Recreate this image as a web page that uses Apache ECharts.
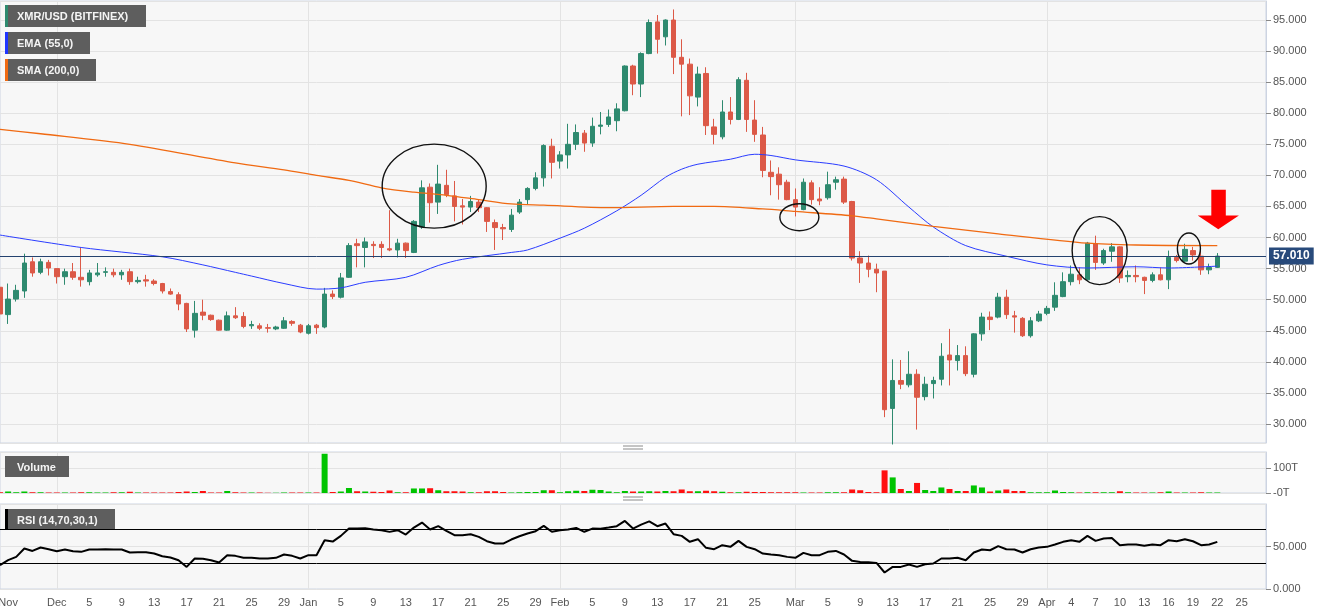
<!DOCTYPE html>
<html>
<head>
<meta charset="utf-8">
<title>XMR/USD (BITFINEX)</title>
<script src="https://cdn.jsdelivr.net/npm/echarts@6/dist/echarts.min.js"></script>
<style>
  html, body { margin: 0; padding: 0; background: #fff; }
  #chart { width: 1331px; height: 615px; }
</style>
</head>
<body>
<div id="chart"></div>
<script>
// daily candles, Nov 24 2019 .. Apr 22 2020 -> [open, high, low, close]
const ohlc = [
  // Nov 24-30
  [52.0, 52.6, 47.2, 47.7], [47.6, 52.6, 46.1, 50.1], [50.1, 52.4, 49.7, 51.5], [51.4, 57.4, 50.3, 55.9],
  [56.1, 56.8, 53.7, 54.3], [54.4, 56.6, 54.1, 56.1], [56.0, 56.4, 53.9, 55.1],
  // Dec
  [55.0, 55.0, 52.6, 53.7], [53.7, 55.0, 52.4, 54.5], [54.5, 55.9, 53.2, 53.6], [53.6, 58.4, 52.1, 53.2],
  [52.9, 54.8, 52.3, 54.3], [54.0, 55.9, 53.7, 54.3], [54.4, 55.2, 53.7, 54.5], [54.4, 55.0, 53.6, 54.0],
  [54.0, 54.8, 53.2, 54.4], [54.5, 55.0, 52.4, 52.9], [52.9, 53.7, 52.6, 53.1], [53.2, 54.0, 52.1, 53.0],
  [53.0, 53.3, 52.3, 52.6], [52.6, 52.7, 51.0, 51.4], [51.3, 51.8, 50.8, 50.9], [50.8, 51.2, 48.3, 49.3],
  [49.4, 49.5, 44.8, 45.3], [45.1, 49.8, 43.9, 47.8], [48.0, 50.0, 46.7, 47.5], [47.5, 47.6, 46.6, 46.8],
  [46.7, 46.8, 45.0, 45.1], [45.1, 48.1, 45.0, 47.4], [47.4, 48.8, 46.9, 47.1], [47.3, 48.0, 45.4, 45.7],
  [45.8, 46.6, 45.3, 46.0], [45.8, 46.2, 45.1, 45.4], [45.5, 46.1, 44.7, 45.4], [45.3, 45.8, 45.1, 45.6],
  [45.4, 47.2, 45.3, 46.6], [46.5, 46.7, 45.8, 46.2], [45.9, 46.1, 44.6, 44.8],
  // Jan
  [44.6, 46.1, 44.4, 45.8], [45.9, 46.1, 44.5, 45.5], [45.6, 51.9, 45.4, 50.9], [50.9, 51.5, 50.1, 50.5],
  [50.4, 54.3, 50.2, 53.5], [53.6, 59.1, 53.5, 58.7], [59.0, 59.8, 55.2, 58.7], [58.4, 60.0, 55.2, 59.3],
  [58.9, 59.4, 56.7, 58.7], [58.9, 59.4, 56.7, 58.4], [58.2, 64.4, 57.8, 58.0], [58.0, 59.8, 56.8, 59.1],
  [59.1, 59.2, 56.7, 57.9], [57.6, 62.8, 57.5, 62.6], [61.7, 69.2, 61.4, 68.0], [68.1, 68.7, 62.4, 65.6],
  [65.7, 71.7, 63.8, 68.6], [68.4, 70.9, 66.5, 66.9], [66.7, 69.1, 62.6, 65.0], [65.1, 66.2, 62.1, 64.9],
  [64.9, 66.7, 64.1, 65.8], [65.7, 66.2, 64.1, 64.8], [64.8, 64.9, 60.9, 62.6], [62.4, 62.9, 58.0, 61.6],
  [61.6, 62.2, 59.6, 61.4], [61.3, 64.6, 60.9, 63.6], [64.1, 66.2, 63.8, 65.7], [66.1, 68.1, 65.3, 67.9],
  [67.9, 70.5, 67.6, 69.6], [69.6, 75.0, 68.2, 74.8], [74.7, 75.9, 69.5, 72.1],
  // Feb
  [72.3, 73.9, 71.1, 73.3], [73.3, 78.3, 71.1, 75.0], [75.0, 78.2, 74.1, 76.9], [76.8, 77.3, 73.8, 75.2],
  [75.2, 79.3, 74.6, 77.9], [77.9, 80.2, 76.6, 78.1], [78.2, 80.6, 77.8, 79.4], [78.8, 81.6, 77.1, 80.7],
  [80.4, 87.7, 80.3, 87.6], [87.6, 87.8, 82.9, 84.7], [84.7, 89.8, 82.6, 89.6], [89.6, 95.1, 89.5, 94.6],
  [94.7, 95.8, 89.6, 91.9], [92.3, 95.1, 90.9, 95.0], [95.0, 96.7, 86.3, 89.0], [89.0, 91.9, 79.5, 87.9],
  [87.9, 88.8, 79.7, 82.8], [82.6, 87.5, 81.1, 86.3], [86.4, 87.4, 76.5, 78.0], [77.8, 79.1, 75.0, 76.6],
  [76.2, 82.1, 75.8, 80.2], [80.2, 82.6, 78.2, 79.0], [79.0, 85.8, 78.9, 85.4], [85.3, 86.5, 77.0, 79.0],
  [78.9, 82.1, 75.4, 76.6], [76.5, 77.8, 69.7, 70.8], [70.5, 72.4, 66.8, 69.8], [70.2, 71.3, 66.1, 68.5],
  [68.9, 69.3, 66.0, 66.1],
  // Mar
  [66.1, 67.9, 63.4, 64.9], [64.5, 69.5, 64.4, 68.9], [68.8, 69.2, 65.3, 66.1], [66.2, 68.1, 65.2, 65.9],
  [66.4, 70.6, 66.1, 68.5], [68.9, 69.8, 67.7, 69.3], [69.4, 69.8, 65.4, 65.7], [65.8, 65.9, 56.3, 56.7],
  [56.7, 57.8, 52.7, 55.9], [55.9, 57.1, 53.6, 54.9], [54.9, 55.8, 51.2, 54.3], [54.6, 54.6, 31.1, 32.3],
  [32.5, 40.4, 26.7, 37.0], [37.0, 40.3, 35.6, 36.4], [36.3, 41.7, 35.9, 38.0], [38.0, 38.8, 29.1, 34.3],
  [34.4, 37.6, 33.8, 36.4], [36.5, 37.6, 34.1, 37.0], [37.2, 43.0, 36.2, 40.9], [41.1, 45.3, 36.2, 40.3],
  [40.2, 42.7, 38.6, 41.0], [41.0, 42.5, 37.7, 38.1], [38.0, 44.6, 37.5, 44.5], [44.5, 47.9, 43.4, 47.2],
  [47.2, 48.1, 45.1, 46.8], [47.2, 51.1, 47.0, 50.4], [50.4, 51.6, 46.9, 47.6], [47.4, 48.2, 44.7, 47.2],
  [47.0, 47.2, 44.0, 44.2], [44.2, 47.2, 43.9, 46.6], [46.6, 48.2, 46.4, 47.7],
  // Apr 1-22
  [47.8, 49.0, 47.5, 48.6], [48.8, 52.8, 48.2, 50.7], [50.5, 54.4, 50.4, 52.9], [52.9, 55.5, 52.3, 54.1],
  [54.0, 55.2, 52.5, 53.2], [53.2, 59.3, 53.1, 59.1], [59.0, 60.3, 54.8, 56.0], [55.9, 58.2, 55.6, 57.9],
  [57.8, 59.1, 56.1, 58.5], [58.5, 58.6, 52.7, 53.5], [53.7, 54.7, 52.8, 53.9], [53.9, 55.5, 52.8, 53.7],
  [53.6, 53.7, 50.9, 53.1], [53.1, 54.4, 52.8, 54.0], [54.0, 55.2, 53.1, 53.2], [53.2, 57.9, 51.7, 56.8],
  [56.8, 57.2, 56.0, 56.3], [56.2, 59.0, 56.0, 58.1], [57.9, 58.5, 56.3, 57.2], [57.0, 58.6, 54.0, 54.8],
  [54.8, 55.8, 54.1, 55.2], [55.2, 57.5, 55.1, 57.01]
];

// volume in T, same days
const volume = [
  3, 6, 3, 6, 3, 3, 2,
  2, 2, 2, 3, 3, 2, 2, 3, 3, 5, 2, 2, 2, 2, 2, 4, 6, 4, 8, 2, 2, 8, 3, 2, 2, 2, 1, 1, 2, 2, 2,
  2, 2, 156, 4, 6, 20, 7, 6, 5, 4, 10, 3, 3, 18, 18, 19, 11, 7, 7, 6, 3, 3, 7, 7, 4, 2, 3, 4, 4, 11, 11,
  3, 7, 9, 8, 13, 12, 6, 3, 8, 6, 6, 7, 6, 8, 7, 14, 7, 7, 9, 7, 5, 3, 3, 5, 4, 4, 3, 3, 3,
  3, 2, 2, 2, 3, 3, 3, 14, 11, 4, 3, 90, 62, 16, 8, 40, 12, 8, 22, 16, 8, 8, 30, 22, 6, 10, 14, 8, 8, 3, 3,
  3, 10, 4, 3, 2, 3, 3, 3, 3, 7, 3, 2, 2, 2, 3, 6, 2, 2, 2, 3, 2, 2
];

// RSI (14), same days
const rsi = [
  28.0, 33.9, 37.8, 47.6, 44.8, 48.8, 46.8,
  44.5, 46.4, 44.5, 43.7, 46.4, 46.4, 46.8, 46.4, 46.4, 42.9, 43.3, 43.3, 41.7, 38.6, 37.0, 33.9,
  26.0, 35.8, 35.5, 33.9, 31.1, 39.8, 39.0, 36.7, 36.7, 35.9, 35.9, 36.7, 40.6, 39.0, 35.9,
  39.8, 39.8, 57.4, 55.8, 62.5, 71.1, 71.1, 71.5, 70.0, 69.2, 67.2, 69.2, 64.1, 72.3, 78.2, 70.0,
  73.9, 68.4, 63.3, 63.3, 64.4, 61.3, 56.2, 53.5, 53.5, 58.2, 62.1, 65.3, 68.0, 74.3, 67.3,
  69.2, 70.0, 71.9, 67.3, 71.1, 70.8, 72.3, 73.9, 80.1, 71.1, 75.8, 79.6, 73.9, 77.0, 64.5, 62.5,
  55.5, 58.6, 48.4, 46.8, 51.5, 49.6, 56.6, 49.6, 46.8, 41.7, 40.6, 39.8, 37.8,
  36.7, 42.5, 39.8, 39.8, 43.7, 44.8, 40.6, 33.1, 31.9, 31.5, 30.7, 19.4, 26.0, 26.0, 28.8, 26.0,
  29.2, 30.0, 35.9, 35.9, 36.7, 33.9, 42.9, 46.4, 45.6, 50.4, 46.8, 46.4, 42.9, 46.8, 48.8,
  49.6, 52.3, 55.5, 57.4, 55.5, 62.5, 56.6, 59.4, 60.1, 51.5, 52.3, 52.3, 50.8, 52.3, 51.5, 57.4,
  56.2, 58.6, 56.2, 51.5, 52.3, 55.5
];

// EMA 55 and SMA 200
const emaPts = [
  ['2019-11-24', 60.4], ['2019-12-04', 58.4], ['2019-12-14', 56.9], ['2019-12-19', 55.6],
  ['2019-12-23', 54.4], ['2019-12-25', 53.8], ['2019-12-29', 52.6], ['2020-01-02', 51.7],
  ['2020-01-05', 51.9], ['2020-01-08', 52.8], ['2020-01-13', 53.6], ['2020-01-17', 55.5],
  ['2020-01-20', 56.5], ['2020-01-26', 57.6], ['2020-01-28', 58.0], ['2020-02-01', 59.9],
  ['2020-02-04', 61.5], ['2020-02-08', 64.3], ['2020-02-11', 66.8], ['2020-02-14', 69.7],
  ['2020-02-16', 71.0], ['2020-02-18', 71.8], ['2020-02-22', 72.6], ['2020-02-25', 73.4],
  ['2020-02-27', 73.2], ['2020-03-01', 72.5], ['2020-03-07', 71.5], ['2020-03-11', 69.3],
  ['2020-03-15', 64.9], ['2020-03-18', 61.7], ['2020-03-22', 58.7], ['2020-03-27', 57.0],
  ['2020-04-01', 55.6], ['2020-04-06', 55.1], ['2020-04-12', 55.3], ['2020-04-16', 55.1],
  ['2020-04-22', 55.4]
];
const smaPts = [
  ['2019-11-24', 77.4], ['2019-11-29', 76.7], ['2019-12-10', 75.0], ['2019-12-23', 72.0],
  ['2019-12-29', 70.9], ['2020-01-02', 70.0], ['2020-01-06', 69.2], ['2020-01-10', 68.0],
  ['2020-01-14', 67.3], ['2020-01-18', 66.8], ['2020-01-22', 66.1], ['2020-01-26', 65.4],
  ['2020-01-30', 65.2], ['2020-02-07', 64.8], ['2020-02-15', 65.0], ['2020-02-20', 65.0],
  ['2020-02-26', 64.6], ['2020-03-01', 64.2], ['2020-03-08', 63.5], ['2020-03-11', 63.0],
  ['2020-03-18', 61.8], ['2020-03-26', 60.6], ['2020-04-06', 59.1], ['2020-04-12', 58.8],
  ['2020-04-22', 58.7]
];

const lastPrice = 57.01;

const xTicks = [
  ['2019-11-25', 'Nov'], ['2019-12-01', 'Dec'], ['2019-12-05', '5'], ['2019-12-09', '9'],
  ['2019-12-13', '13'], ['2019-12-17', '17'], ['2019-12-21', '21'], ['2019-12-25', '25'],
  ['2019-12-29', '29'], ['2020-01-01', 'Jan'], ['2020-01-05', '5'], ['2020-01-09', '9'],
  ['2020-01-13', '13'], ['2020-01-17', '17'], ['2020-01-21', '21'], ['2020-01-25', '25'],
  ['2020-01-29', '29'], ['2020-02-01', 'Feb'], ['2020-02-05', '5'], ['2020-02-09', '9'],
  ['2020-02-13', '13'], ['2020-02-17', '17'], ['2020-02-21', '21'], ['2020-02-25', '25'],
  ['2020-03-01', 'Mar'], ['2020-03-05', '5'], ['2020-03-09', '9'], ['2020-03-13', '13'],
  ['2020-03-17', '17'], ['2020-03-21', '21'], ['2020-03-25', '25'], ['2020-03-29', '29'],
  ['2020-04-01', 'Apr'], ['2020-04-04', '4'], ['2020-04-07', '7'], ['2020-04-10', '10'],
  ['2020-04-13', '13'], ['2020-04-16', '16'], ['2020-04-19', '19'], ['2020-04-22', '22'],
  ['2020-04-25', '25']
];
const monthStarts = ['2019-12-01', '2020-01-01', '2020-02-01', '2020-03-01', '2020-04-01'];

// axis categories: every day up to Apr 28 (empty space right of the last candle)
const dates = [];
for (let t = Date.UTC(2019, 10, 24); t <= Date.UTC(2020, 3, 28); t += 86400000) {
  dates.push(new Date(t).toISOString().slice(0, 10));
}
const tickMap = new Map(xTicks);

const UP = '#2e8a6f';
const DOWN = '#dc5947';
const FONT = '"Liberation Sans", Arial, sans-serif';
const GRID_LINE = '#e3e3e3';
const FRAME = '#cdd4e2';

const chart = echarts.init(document.getElementById('chart'));

const xAxes = [0, 1, 2].map(g => ({
  type: 'category',
  gridIndex: g,
  data: dates,
  boundaryGap: false,
  axisLine: { show: false },
  axisTick: { show: false },
  axisLabel: {
    show: g === 2,
    interval: (i, v) => tickMap.has(v),
    formatter: v => tickMap.get(v) || '',
    color: '#555',
    fontSize: 11,
    margin: 8
  },
  splitLine: {
    show: true,
    interval: (i, v) => monthStarts.includes(v),
    lineStyle: { color: GRID_LINE }
  }
}));

const panel = {
  left: 0, right: 65, show: true, outerBoundsMode: 'none',
  backgroundColor: '#f7f7f7', borderColor: FRAME, borderWidth: 1
};

const option = {
  animation: false,
  backgroundColor: '#ffffff',
  textStyle: { fontFamily: FONT },
  grid: [
    Object.assign({ top: 1, height: 442 }, panel),
    Object.assign({ top: 452, height: 41 }, panel),
    Object.assign({ top: 504, height: 85 }, panel)
  ],
  xAxis: xAxes,
  yAxis: [
    {
      type: 'value', gridIndex: 0, position: 'right',
      min: 26.94, max: 98.06, minInterval: 5, maxInterval: 5,
      axisLine: { show: true, lineStyle: { color: FRAME } },
      axisTick: { show: true, length: 5, lineStyle: { color: '#888' } },
      axisLabel: { color: '#555', fontSize: 11, margin: 7, showMinLabel: false, showMaxLabel: false,
        formatter: v => v.toFixed(3) },
      splitLine: { lineStyle: { color: GRID_LINE } }
    },
    {
      type: 'value', gridIndex: 1, position: 'right',
      min: 0, max: 163, minInterval: 100, maxInterval: 100,
      axisLine: { show: true, lineStyle: { color: FRAME } },
      axisTick: { show: true, length: 5, lineStyle: { color: '#888' } },
      axisLabel: { color: '#555', fontSize: 11, margin: 7, showMaxLabel: false,
        formatter: v => (v === 0 ? '-0T' : v + 'T') },
      splitLine: { lineStyle: { color: GRID_LINE } }
    },
    {
      type: 'value', gridIndex: 2, position: 'right',
      min: 0, max: 100, interval: 50,
      axisLine: { show: true, lineStyle: { color: FRAME } },
      axisTick: { show: true, length: 5, lineStyle: { color: '#888' } },
      axisLabel: { color: '#555', fontSize: 11, margin: 7, showMaxLabel: false,
        formatter: v => v.toFixed(3) },
      splitLine: { lineStyle: { color: GRID_LINE } }
    }
  ],
  series: [
    {
      name: 'XMR/USD',
      type: 'candlestick',
      xAxisIndex: 0, yAxisIndex: 0,
      barWidth: 5,
      data: ohlc.map(([o, h, l, c]) => [o, c, l, h]),
      itemStyle: { color: UP, color0: DOWN, borderColor: UP, borderColor0: DOWN, borderWidth: 1 },
      markLine: {
        silent: true,
        symbol: ['none', 'none'],
        lineStyle: { color: '#24426f', width: 1, type: 'solid' },
        label: {
          show: true, position: 'end', distance: 3,
          formatter: () => lastPrice.toFixed(3),
          backgroundColor: '#284a7b', color: '#fff', fontWeight: 'bold', fontSize: 12,
          padding: [3, 4, 2, 4]
        },
        data: [{ yAxis: lastPrice }]
      }
    },
    {
      name: 'EMA (55,0)', type: 'line', xAxisIndex: 0, yAxisIndex: 0,
      data: emaPts, showSymbol: false, smooth: 0.3,
      lineStyle: { color: '#2a3cff', width: 1 }
    },
    {
      name: 'SMA (200,0)', type: 'line', xAxisIndex: 0, yAxisIndex: 0,
      data: smaPts, showSymbol: false, smooth: 0.3,
      lineStyle: { color: '#f06a12', width: 1.3 }
    },
    {
      name: 'Volume', type: 'bar', xAxisIndex: 1, yAxisIndex: 1,
      barWidth: 6,
      data: volume.map((v, i) => ({
        value: v,
        itemStyle: { color: ohlc[i][3] >= ohlc[i][0] ? '#00c400' : '#ff1010' }
      }))
    },
    {
      name: 'RSI', type: 'line', xAxisIndex: 2, yAxisIndex: 2,
      data: rsi, showSymbol: false,
      lineStyle: { color: '#000', width: 2 },
      markLine: {
        silent: true,
        symbol: ['none', 'none'],
        label: { show: false },
        lineStyle: { color: '#000', width: 1, type: 'solid' },
        data: [{ yAxis: 70 }, { yAxis: 30 }]
      }
    }
  ]
};

chart.setOption(option);

// overlay: indicator tags, pane handles, hand-drawn annotations
function tag(x, y, w, h, text, strip) {
  const els = [{ type: 'rect', shape: { x, y, width: w, height: h }, style: { fill: '#5e5e5e' } }];
  if (strip) els.push({ type: 'rect', shape: { x, y, width: 3, height: h }, style: { fill: strip } });
  els.push({
    type: 'text', x: x + 12, y: y + h / 2 + 1,
    style: { text, fill: '#f4f4f4', font: 'bold 11px ' + FONT, verticalAlign: 'middle' }
  });
  return els;
}
function handle(y) {
  return [0, 3].map(d => ({
    type: 'line', shape: { x1: 623, y1: y + d, x2: 643, y2: y + d },
    style: { stroke: '#8a8a8a', lineWidth: 1 }
  }));
}
const toPx = (date, price) => chart.convertToPixel({ gridIndex: 0 }, [date, price]);
function ellipseBetween(d1, d2, price, rx, ry) {
  const a = toPx(d1, price), b = toPx(d2, price);
  return {
    type: 'ellipse', shape: { cx: (a[0] + b[0]) / 2, cy: a[1], rx, ry },
    style: { fill: 'none', stroke: '#111', lineWidth: 1.4 }, z: 100
  };
}
const tip = toPx('2020-04-22', 61.35);
const tx = tip[0] + 1, ty = tip[1];
const arrow = {
  type: 'polygon', z: 100,
  shape: { points: [
    [tx - 7, ty - 39.5], [tx + 7.5, ty - 39.5], [tx + 7.5, ty - 13.7], [tx + 20.6, ty - 13.7],
    [tx, ty], [tx - 20.6, ty - 13.7], [tx - 7, ty - 13.7]
  ] },
  style: { fill: '#ff0000' }
};

chart.setOption({
  graphic: [].concat(
    tag(5, 5, 141, 22, 'XMR/USD (BITFINEX)', UP),
    tag(5, 32, 85, 22, 'EMA (55,0)', '#1f35ff'),
    tag(5, 59, 91, 22, 'SMA (200,0)', '#f06a12'),
    tag(5, 456, 64, 21, 'Volume', null),
    tag(5, 509, 110, 21, 'RSI (14,70,30,1)', '#000'),
    handle(446),
    handle(497),
    [
      ellipseBetween('2020-01-16', '2020-01-17', 68.27, 52, 42),
      ellipseBetween('2020-03-01', '2020-03-02', 63.27, 19.5, 13.5),
      ellipseBetween('2020-04-07', '2020-04-08', 57.9, 27.5, 34),
      ellipseBetween('2020-04-18', '2020-04-19', 58.23, 11.5, 15.5),
      arrow
    ]
  )
});
</script>
</body>
</html>
